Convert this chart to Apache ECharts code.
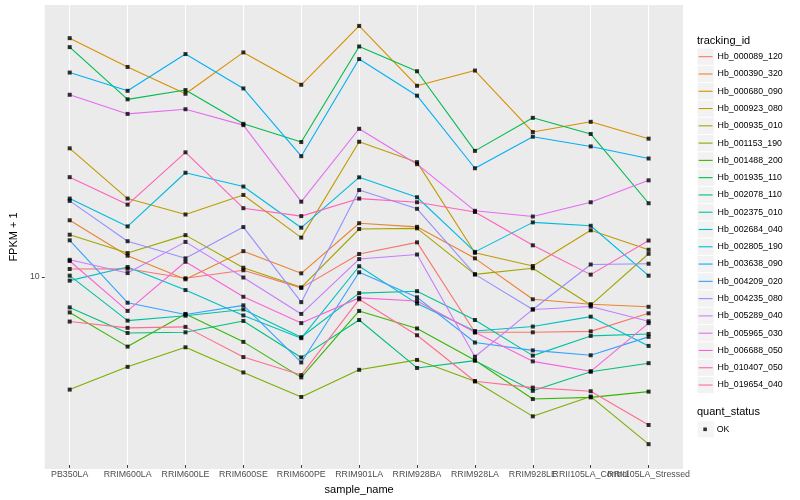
<!DOCTYPE html>
<html>
<head>
<meta charset="utf-8">
<script src="https://cdn.jsdelivr.net/npm/echarts/dist/echarts.min.js"></script>
<style>html,body{margin:0;padding:0;background:#fff}#c{width:800px;height:500px}</style>
</head>
<body>
<div id="c"></div>
<script>
// ---- data ----
const categories = ['PB350LA','RRIM600LA','RRIM600LE','RRIM600SE','RRIM600PE','RRIM901LA','RRIM928BA','RRIM928LA','RRIM928LE','RRII105LA_Control','RRII105LA_Stressed'];
const trackingIds = ['Hb_000089_120','Hb_000390_320','Hb_000680_090','Hb_000923_080','Hb_000935_010','Hb_001153_190','Hb_001488_200','Hb_001935_110','Hb_002078_110','Hb_002375_010','Hb_002684_040','Hb_002805_190','Hb_003638_090','Hb_004209_020','Hb_004235_080','Hb_005289_040','Hb_005965_030','Hb_006688_050','Hb_010407_050','Hb_019654_040'];
const yTickValues = [10];

const Hb_000089_120 = [10.22, 10.23, 9.86, 10.17, 9.50, 10.83, 11.33, 8.00, 8.00, 8.03, 8.61];
const Hb_000390_320 = [12.34, 10.76, 9.82, 10.95, 10.05, 12.20, 12.03, 10.65, 9.09, 8.92, 8.83];
const Hb_000680_090 = [24.96, 22.33, 20.13, 23.62, 20.84, 26.17, 20.76, 22.02, 17.36, 18.06, 16.92];
const Hb_000923_080 = [16.30, 13.42, 12.62, 13.61, 11.54, 16.72, 15.45, 10.88, 10.34, 11.87, 11.01];
const Hb_000935_010 = [11.67, 10.87, 11.65, 10.27, 9.52, 11.93, 11.96, 10.01, 10.25, 8.89, 10.84];
const Hb_001153_190 = [6.41, 7.00, 7.55, 6.85, 6.23, 6.92, 7.19, 6.62, 5.78, 6.24, 5.19];
const Hb_001488_200 = [8.64, 7.57, 8.59, 7.71, 6.72, 8.69, 8.12, 7.18, 6.18, 6.22, 6.36];
const Hb_001935_110 = [24.11, 19.70, 20.42, 17.92, 16.70, 24.17, 21.96, 16.14, 18.34, 17.23, 13.18];
const Hb_002078_110 = [8.81, 7.98, 8.00, 8.36, 7.26, 8.39, 6.97, 7.17, 6.38, 6.87, 7.10];
const Hb_002375_010 = [9.96, 8.37, 8.53, 8.74, 7.85, 9.31, 9.38, 8.39, 7.31, 7.89, 7.95];
const Hb_002684_040 = [9.77, 10.30, 9.42, 8.54, 7.82, 10.33, 8.94, 8.04, 8.18, 8.50, 7.59];
const Hb_002805_190 = [13.42, 12.05, 14.83, 14.06, 11.99, 14.57, 13.49, 10.92, 12.24, 12.08, 9.96];
const Hb_003638_090 = [21.85, 20.36, 23.47, 20.55, 15.81, 23.02, 19.98, 15.09, 17.05, 16.42, 15.67];
const Hb_004209_020 = [11.42, 8.97, 8.57, 8.88, 7.12, 10.09, 9.16, 7.69, 7.46, 7.32, 7.86];
const Hb_004235_080 = [13.30, 11.38, 10.65, 12.02, 8.99, 13.87, 12.90, 10.01, 8.74, 10.40, 10.43];
const Hb_005289_040 = [10.59, 10.06, 11.35, 9.89, 8.59, 10.62, 10.81, 7.28, 8.74, 8.84, 8.35];
const Hb_005965_030 = [20.05, 18.62, 18.96, 17.83, 13.26, 17.58, 15.33, 12.80, 12.52, 13.23, 14.40];
const Hb_006688_050 = [10.54, 8.69, 10.51, 9.18, 8.29, 9.14, 9.03, 8.00, 7.15, 6.88, 8.29];
const Hb_010407_050 = [14.58, 13.11, 16.05, 12.93, 12.54, 13.42, 13.23, 12.74, 11.20, 10.00, 11.41];
const Hb_019654_040 = [8.34, 8.14, 8.17, 7.27, 6.78, 9.09, 7.91, 6.62, 6.46, 6.37, 5.59];

const seriesValues = [Hb_000089_120, Hb_000390_320, Hb_000680_090, Hb_000923_080, Hb_000935_010,
  Hb_001153_190, Hb_001488_200, Hb_001935_110, Hb_002078_110, Hb_002375_010, Hb_002684_040,
  Hb_002805_190, Hb_003638_090, Hb_004209_020, Hb_004235_080, Hb_005289_040, Hb_005965_030,
  Hb_006688_050, Hb_010407_050, Hb_019654_040];

// ggplot hue palette for 20 levels
const palette = ['#F8766D','#EA8331','#D89000','#C09B00','#A3A500','#7CAE00','#39B600','#00BB4E','#00BF7D','#00C1A3','#00BFC4','#00BAE0','#00B0F6','#35A2FF','#9590FF','#C77CFF','#E76BF3','#FA62DB','#FF62BC','#FF6C91'];

// ---- build ----
const FONT = '"Liberation Sans", Arial, Helvetica, sans-serif';
const all = seriesValues.flat();
const lo = Math.log10(Math.min(...all)), hi = Math.log10(Math.max(...all));
const pad = (hi - lo) * 0.05;
const yMin = Math.pow(10, lo - pad), yMax = Math.pow(10, hi + pad);

const chart = echarts.init(document.getElementById('c'), null, {renderer: 'canvas', width: 800, height: 500});

const series = [];
trackingIds.forEach((id, i) => {
  series.push({
    type: 'line', name: id, xAxisIndex: 1, yAxisIndex: 1, data: seriesValues[i],
    showSymbol: false, symbol: 'none', clip: false, silent: true, z: 2,
    lineStyle: {color: palette[i], width: 1.1},
    itemStyle: {color: palette[i]},
    emphasis: {disabled: true}
  });
});
trackingIds.forEach((id, i) => {
  series.push({
    type: 'scatter', name: 'OK', xAxisIndex: 1, yAxisIndex: 1, data: seriesValues[i],
    symbol: 'rect', symbolSize: 4, clip: false, silent: true, z: 3,
    itemStyle: {color: '#000'},
    emphasis: {disabled: true}
  });
});

const keySize = 17.28;
const keyFill = keySize - 1;
const legendTop = 48.06;

const option = {
  animation: false,
  backgroundColor: '#fff',
  textStyle: {fontFamily: FONT},
  title: [
    {text: 'tracking_id', left: 697, top: 34.2, padding: 0,
     textStyle: {fontSize: 11, fontWeight: 'normal', color: '#000', fontFamily: FONT, lineHeight: 13}},
    {text: 'quant_status', left: 697, top: 405.5, padding: 0,
     textStyle: {fontSize: 11, fontWeight: 'normal', color: '#000', fontFamily: FONT, lineHeight: 13}}
  ],
  grid: [
    {left: 35, right: 117, top: 5, bottom: 31, show: true, backgroundColor: '#EBEBEB', borderWidth: 0},
    {left: 69.7, right: 151.4, top: 5, bottom: 31}
  ],
  xAxis: [
    {gridIndex: 0, type: 'value', show: false, min: 0, max: 1},
    {gridIndex: 1, type: 'category', data: categories, boundaryGap: false,
     axisLine: {show: false},
     axisTick: {show: true, length: 2.75, lineStyle: {color: '#333333', width: 1}},
     axisLabel: {interval: 0, color: '#4D4D4D', fontSize: 8.8, margin: 5, fontFamily: FONT},
     splitLine: {show: true, lineStyle: {color: '#ffffff', width: 1.1}},
     name: 'sample_name', nameLocation: 'middle', nameGap: 14,
     nameTextStyle: {fontSize: 11, color: '#000', fontFamily: FONT}}
  ],
  yAxis: [
    {gridIndex: 0, type: 'log', logBase: 10, min: yMin, max: yMax,
     axisLine: {show: false},
     axisTick: {show: true, customValues: yTickValues, length: 2.75, lineStyle: {color: '#333333', width: 1}},
     axisLabel: {customValues: yTickValues, color: '#4D4D4D', fontSize: 8.8, margin: 5, fontFamily: FONT},
     splitLine: {show: true, showMinLine: false, showMaxLine: false, lineStyle: {color: '#ffffff', width: 1.1}},
     minorSplitLine: {show: false},
     name: 'FPKM + 1', nameLocation: 'middle', nameGap: 18,
     nameTextStyle: {fontSize: 11, color: '#000', fontFamily: FONT}},
    {gridIndex: 1, type: 'log', logBase: 10, min: yMin, max: yMax, show: false}
  ],
  legend: [
    {id: 'keys', data: trackingIds.map(id => ({name: id})), orient: 'vertical',
     left: 697.5, top: legendTop + 0.5, itemWidth: keyFill, itemHeight: keyFill, itemGap: 1, padding: 0,
     icon: 'rect', itemStyle: {color: '#F2F2F2', borderWidth: 0},
     formatter: () => '', textStyle: {fontSize: 8.8}, selectedMode: false},
    {id: 'lines', data: trackingIds.map((id, i) => ({name: id, itemStyle: {color: palette[i], borderWidth: 0}})),
     orient: 'vertical', left: 698.6, top: legendTop, itemWidth: 14, itemHeight: keySize, itemGap: 0, padding: 0,
     icon: 'path://M0 0H14V1.1H0Z', itemStyle: {borderWidth: 0},
     textStyle: {fontSize: 8.8, color: '#000', fontFamily: FONT, lineHeight: keySize}, selectedMode: false},
    {id: 'okKey', data: ['OK'], orient: 'vertical', left: 697.5, top: 421.2,
     itemWidth: keyFill, itemHeight: keyFill, padding: 0, icon: 'rect',
     itemStyle: {color: '#F2F2F2', borderWidth: 0},
     formatter: () => '', textStyle: {fontSize: 8.8}, selectedMode: false},
    {id: 'okDot', data: ['OK'], orient: 'vertical', left: 703.3, top: 427.5,
     itemWidth: 3.6, itemHeight: 3.6, padding: 0, icon: 'rect',
     itemStyle: {color: '#000', borderWidth: 0},
     formatter: () => '', textStyle: {fontSize: 1, lineHeight: 1}, selectedMode: false},
    {id: 'okText', data: ['OK'], orient: 'vertical', left: 711.7, top: 420.7,
     itemWidth: 0.01, itemHeight: keySize, padding: 0, icon: 'rect',
     itemStyle: {color: 'rgba(0,0,0,0)', borderWidth: 0},
     textStyle: {fontSize: 8.8, color: '#000', fontFamily: FONT, lineHeight: keySize}, selectedMode: false}
  ],
  series: series
};
chart.setOption(option);
</script>
</body>
</html>
